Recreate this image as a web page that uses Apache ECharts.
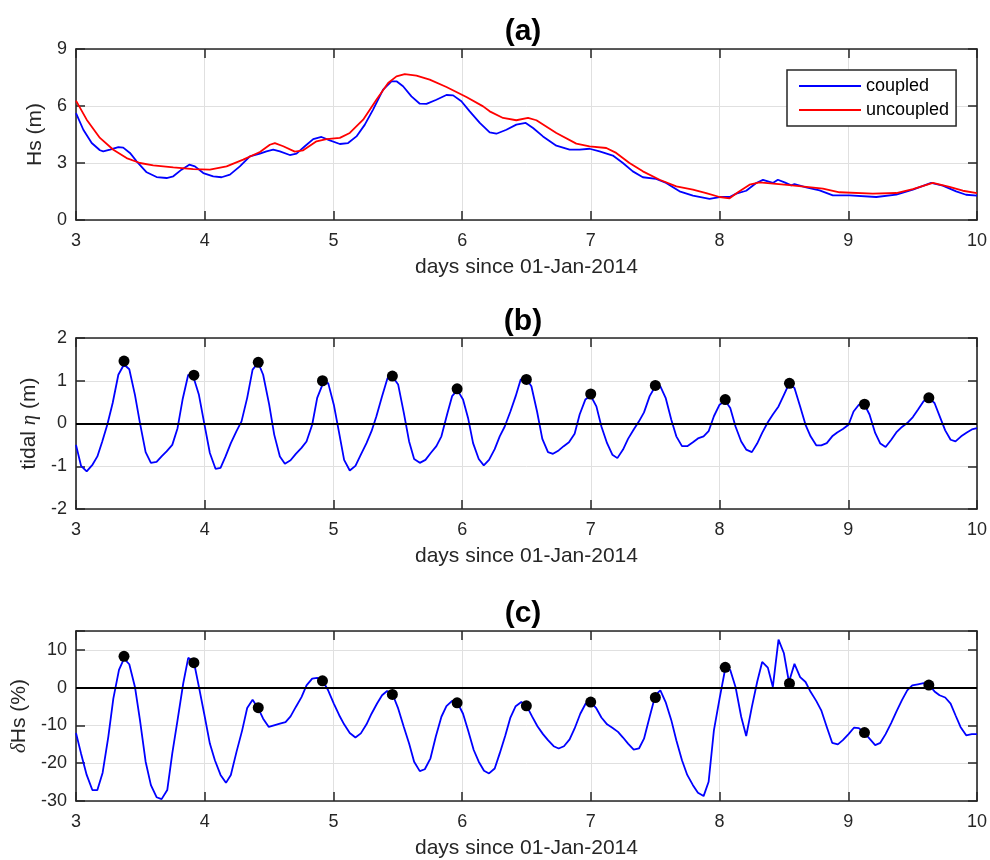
<!DOCTYPE html>
<html>
<head>
<meta charset="utf-8">
<script src="https://cdn.jsdelivr.net/npm/echarts@6/dist/echarts.min.js"></script>
<style>html,body{margin:0;padding:0;background:#fff;}#chart{width:990px;height:860px;}</style>
</head>
<body>
<div id="chart"></div>
<script>
// ---------- data (day since 01-Jan-2014, value) ----------
const xTicks = [3, 4, 5, 6, 7, 8, 9, 10];
const hsTicks = [0, 3, 6, 9];
const tideTicks = [-2, -1, 0, 1, 2];
const dHsTicks = [-30, -20, -10, 0, 10];

const hsCoupled = [[3.000,5.63],[3.057,4.75],[3.122,4.05],[3.186,3.67],[3.212,3.61],[3.264,3.70],[3.329,3.84],[3.367,3.81],[3.419,3.53],[3.471,3.09],[3.549,2.51],[3.626,2.26],[3.704,2.21],[3.756,2.30],[3.820,2.65],[3.880,2.91],[3.924,2.82],[3.989,2.47],[4.066,2.30],[4.131,2.25],[4.196,2.39],[4.273,2.82],[4.351,3.35],[4.429,3.49],[4.480,3.61],[4.532,3.70],[4.584,3.61],[4.661,3.42],[4.713,3.49],[4.778,3.88],[4.843,4.26],[4.907,4.37],[4.972,4.19],[5.050,4.00],[5.114,4.05],[5.179,4.40],[5.244,5.02],[5.308,5.81],[5.386,6.86],[5.451,7.30],[5.490,7.30],[5.541,7.04],[5.606,6.51],[5.671,6.12],[5.723,6.11],[5.800,6.33],[5.878,6.58],[5.930,6.56],[5.994,6.25],[6.059,5.72],[6.137,5.11],[6.214,4.61],[6.266,4.54],[6.344,4.75],[6.421,5.02],[6.494,5.11],[6.551,4.84],[6.628,4.40],[6.732,3.91],[6.835,3.70],[6.913,3.70],[6.990,3.75],[7.068,3.61],[7.171,3.39],[7.249,3.00],[7.326,2.56],[7.404,2.25],[7.508,2.16],[7.585,1.95],[7.689,1.51],[7.793,1.28],[7.922,1.11],[8.000,1.21],[8.078,1.21],[8.130,1.39],[8.207,1.54],[8.285,1.95],[8.337,2.11],[8.414,1.95],[8.453,2.12],[8.505,1.98],[8.557,1.82],[8.582,1.89],[8.673,1.72],[8.777,1.56],[8.880,1.30],[9.010,1.30],[9.217,1.21],[9.373,1.33],[9.502,1.60],[9.644,1.95],[9.734,1.81],[9.838,1.51],[9.915,1.33],[10.000,1.28]];

const hsUncoupled = [[3.000,6.28],[3.083,5.28],[3.186,4.32],[3.290,3.70],[3.393,3.26],[3.497,3.00],[3.600,2.88],[3.756,2.77],[3.911,2.68],[4.040,2.65],[4.170,2.82],[4.299,3.18],[4.429,3.58],[4.506,3.96],[4.545,4.05],[4.610,3.88],[4.700,3.60],[4.765,3.67],[4.869,4.14],[4.946,4.26],[5.050,4.32],[5.127,4.58],[5.231,5.28],[5.334,6.33],[5.425,7.21],[5.490,7.56],[5.554,7.68],[5.645,7.60],[5.748,7.39],[5.878,7.00],[6.033,6.47],[6.163,5.98],[6.214,5.72],[6.318,5.37],[6.421,5.25],[6.512,5.37],[6.577,5.25],[6.732,4.58],[6.887,4.02],[6.990,3.88],[7.120,3.79],[7.197,3.53],[7.300,3.00],[7.404,2.56],[7.534,2.12],[7.664,1.77],[7.793,1.60],[7.896,1.42],[8.000,1.21],[8.078,1.14],[8.143,1.46],[8.233,1.86],[8.311,1.98],[8.544,1.84],[8.803,1.65],[8.932,1.46],[9.191,1.39],[9.373,1.42],[9.502,1.63],[9.657,1.95],[9.786,1.74],[9.890,1.54],[10.000,1.42]];

const tide = [[3.000,-0.50],[3.039,-0.99],[3.083,-1.12],[3.129,-0.96],[3.166,-0.77],[3.204,-0.42],[3.243,-0.03],[3.285,0.48],[3.329,1.14],[3.373,1.38],[3.414,1.27],[3.458,0.67],[3.497,0.01],[3.541,-0.67],[3.582,-0.92],[3.626,-0.90],[3.665,-0.77],[3.704,-0.65],[3.748,-0.50],[3.789,-0.11],[3.828,0.56],[3.872,1.14],[3.911,1.10],[3.955,0.67],[3.996,0.01],[4.040,-0.69],[4.084,-1.06],[4.123,-1.04],[4.162,-0.77],[4.203,-0.46],[4.247,-0.18],[4.286,0.05],[4.330,0.60],[4.372,1.26],[4.416,1.42],[4.454,1.14],[4.501,0.44],[4.540,-0.26],[4.584,-0.77],[4.623,-0.94],[4.667,-0.86],[4.708,-0.71],[4.752,-0.57],[4.791,-0.42],[4.835,-0.03],[4.874,0.60],[4.915,0.91],[4.959,0.95],[5.003,0.44],[5.045,-0.23],[5.083,-0.85],[5.127,-1.10],[5.171,-0.99],[5.213,-0.73],[5.257,-0.46],[5.296,-0.18],[5.334,0.17],[5.378,0.64],[5.420,1.06],[5.458,1.10],[5.503,0.91],[5.547,0.25],[5.588,-0.42],[5.627,-0.83],[5.671,-0.92],[5.715,-0.85],[5.756,-0.69],[5.800,-0.53],[5.839,-0.30],[5.883,0.21],[5.922,0.64],[5.963,0.78],[6.007,0.56],[6.046,0.13],[6.085,-0.46],[6.129,-0.83],[6.168,-0.98],[6.209,-0.85],[6.253,-0.60],[6.292,-0.30],[6.331,-0.07],[6.375,0.28],[6.416,0.64],[6.455,1.03],[6.499,1.04],[6.538,0.87],[6.582,0.28],[6.623,-0.36],[6.667,-0.67],[6.706,-0.71],[6.750,-0.63],[6.789,-0.53],[6.830,-0.44],[6.874,-0.24],[6.913,0.21],[6.957,0.56],[6.999,0.65],[7.043,0.40],[7.082,-0.07],[7.126,-0.46],[7.167,-0.73],[7.206,-0.81],[7.250,-0.61],[7.289,-0.36],[7.333,-0.14],[7.374,0.05],[7.413,0.26],[7.457,0.64],[7.501,0.87],[7.540,0.87],[7.581,0.60],[7.625,0.09],[7.664,-0.30],[7.708,-0.53],[7.749,-0.53],[7.793,-0.44],[7.832,-0.35],[7.876,-0.30],[7.915,-0.18],[7.956,0.17],[8.000,0.44],[8.044,0.53],[8.083,0.36],[8.124,-0.07],[8.168,-0.42],[8.207,-0.61],[8.251,-0.67],[8.292,-0.47],[8.331,-0.22],[8.375,0.03],[8.414,0.21],[8.458,0.40],[8.500,0.67],[8.543,0.95],[8.582,0.83],[8.626,0.40],[8.668,-0.03],[8.707,-0.30],[8.751,-0.51],[8.790,-0.51],[8.833,-0.46],[8.875,-0.30],[8.914,-0.21],[8.958,-0.13],[9.002,-0.03],[9.041,0.28],[9.082,0.44],[9.126,0.44],[9.165,0.21],[9.209,-0.22],[9.249,-0.47],[9.290,-0.55],[9.334,-0.38],[9.373,-0.21],[9.417,-0.08],[9.458,0.01],[9.502,0.15],[9.541,0.32],[9.585,0.52],[9.626,0.60],[9.670,0.48],[9.709,0.18],[9.753,-0.16],[9.795,-0.38],[9.833,-0.42],[9.877,-0.30],[9.921,-0.21],[9.960,-0.14],[10.000,-0.11]];

const dHs = [[3.000,-12.0],[3.039,-17.4],[3.083,-23.1],[3.127,-27.1],[3.166,-27.1],[3.207,-22.5],[3.251,-13.0],[3.290,-2.9],[3.334,4.7],[3.373,7.7],[3.414,6.2],[3.458,0.2],[3.497,-8.6],[3.541,-19.6],[3.582,-25.8],[3.626,-29.0],[3.665,-29.5],[3.709,-27.1],[3.748,-17.4],[3.789,-8.6],[3.833,1.1],[3.872,7.9],[3.916,6.8],[3.955,0.2],[3.996,-6.9],[4.040,-14.8],[4.079,-19.2],[4.123,-23.1],[4.165,-25.2],[4.203,-23.1],[4.247,-17.0],[4.291,-11.3],[4.330,-5.4],[4.372,-3.2],[4.416,-5.5],[4.454,-8.2],[4.498,-10.4],[4.545,-9.9],[4.584,-9.5],[4.628,-9.1],[4.667,-7.6],[4.708,-5.1],[4.752,-2.5],[4.791,0.6],[4.835,2.4],[4.874,2.6],[4.915,1.9],[4.959,-0.7],[5.003,-4.2],[5.045,-7.3],[5.083,-9.7],[5.127,-12.0],[5.171,-13.2],[5.213,-12.1],[5.257,-9.7],[5.296,-6.9],[5.339,-4.2],[5.378,-2.0],[5.417,-0.9],[5.458,-1.6],[5.503,-5.5],[5.547,-10.4],[5.588,-14.8],[5.627,-19.6],[5.671,-22.1],[5.710,-21.6],[5.754,-18.7],[5.795,-13.0],[5.839,-7.7],[5.878,-4.9],[5.922,-3.5],[5.961,-3.8],[6.007,-6.9],[6.046,-11.3],[6.090,-16.5],[6.129,-19.6],[6.170,-22.0],[6.209,-22.7],[6.253,-21.4],[6.292,-17.4],[6.336,-12.6],[6.375,-7.9],[6.416,-4.9],[6.460,-3.8],[6.499,-4.7],[6.543,-7.6],[6.585,-10.2],[6.628,-12.3],[6.667,-13.9],[6.711,-15.5],[6.750,-16.1],[6.791,-15.5],[6.835,-13.7],[6.874,-10.8],[6.918,-6.9],[6.960,-4.2],[6.999,-3.8],[7.043,-5.5],[7.082,-7.9],[7.126,-9.7],[7.167,-10.6],[7.211,-11.7],[7.250,-13.2],[7.289,-14.8],[7.333,-16.4],[7.374,-16.1],[7.413,-13.5],[7.457,-7.7],[7.501,-2.0],[7.540,-0.7],[7.581,-3.8],[7.625,-8.6],[7.664,-13.9],[7.708,-19.2],[7.749,-23.1],[7.793,-25.8],[7.832,-27.8],[7.876,-28.7],[7.915,-24.9],[7.956,-11.3],[8.000,-2.9],[8.044,5.0],[8.083,4.7],[8.124,0.2],[8.168,-7.7],[8.207,-12.8],[8.251,-5.1],[8.292,1.5],[8.331,6.8],[8.375,5.3],[8.414,0.2],[8.458,12.7],[8.500,9.1],[8.539,1.5],[8.582,6.3],[8.626,2.8],[8.668,1.5],[8.707,-1.1],[8.751,-3.5],[8.790,-6.0],[8.833,-10.4],[8.875,-14.6],[8.919,-15.0],[8.958,-13.9],[9.002,-12.3],[9.044,-10.6],[9.082,-10.7],[9.126,-12.0],[9.165,-13.5],[9.209,-15.2],[9.249,-14.6],[9.290,-12.3],[9.334,-9.3],[9.373,-6.4],[9.417,-3.3],[9.458,-0.7],[9.497,0.6],[9.541,0.9],[9.585,1.2],[9.626,0.8],[9.670,-1.0],[9.709,-2.0],[9.753,-2.6],[9.795,-4.2],[9.833,-7.3],[9.872,-10.4],[9.916,-12.6],[9.960,-12.3],[10.000,-12.3]];

const peakDays = [3.373, 3.916, 4.416, 4.915, 5.458, 5.961, 6.499, 6.999, 7.501, 8.044, 8.543, 9.126, 9.626];
const peakTide = [1.46, 1.13, 1.43, 1.00, 1.11, 0.81, 1.03, 0.69, 0.89, 0.56, 0.94, 0.45, 0.60];
const peakDHs = [8.3, 6.6, -5.3, 1.8, -1.8, -4.0, -4.8, -3.8, -2.6, 5.4, 1.1, -11.9, 0.7];

const panelTitles = ['(a)', '(b)', '(c)'];
const yNames = ['Hs (m)', 'tidal {i|η} (m)', '{i|δ}Hs (%)'];
const xName = 'days since 01-Jan-2014';
const seriesNames = ['coupled', 'uncoupled'];

// ---------- styling / layout ----------
const FONT = '"Liberation Sans", Arial, Helvetica, sans-serif';
const TXT = '#262626';
const FRAME = '#262626';
const GRIDC = '#e0e0e0';
const grids = [
  { left: 76, right: 12, top: 49, height: 171 },
  { left: 76, right: 12, top: 338, height: 171 },
  { left: 76, right: 12, top: 631, height: 170 }
];
const yRanges = [
  { min: 0, max: 9, interval: 3, gap: 28 },
  { min: -2, max: 2, interval: 1, gap: 33 },
  { min: -30, max: 15, interval: 10, gap: 43 }
];
const titleTops = [12, 302, 594];

const tickStyle = { show: true, inside: true, length: 9, lineStyle: { color: FRAME, width: 1.5 } };
const lineStyle = { show: true, onZero: false, lineStyle: { color: FRAME, width: 1.6 } };

const xAxis = [], yAxis = [];
grids.forEach((g, i) => {
  xAxis.push({
    type: 'value', gridIndex: i, min: xTicks[0], max: xTicks[xTicks.length - 1], interval: 1,
    position: 'bottom', name: xName, nameLocation: 'middle', nameGap: 37,
    nameTextStyle: { fontSize: 21, color: TXT, fontFamily: FONT },
    axisLine: lineStyle, axisTick: tickStyle,
    axisLabel: { fontSize: 18, color: TXT, fontFamily: FONT, margin: 12 },
    splitLine: { show: true, lineStyle: { color: GRIDC, width: 1 } }
  });
  xAxis.push({
    type: 'value', gridIndex: i, min: xTicks[0], max: xTicks[xTicks.length - 1], interval: 1,
    position: 'top', axisLine: lineStyle, axisTick: tickStyle,
    axisLabel: { show: false }, splitLine: { show: false }
  });
  const r = yRanges[i];
  yAxis.push({
    type: 'value', gridIndex: i, min: r.min, max: r.max, interval: r.interval,
    position: 'left', name: yNames[i], nameLocation: 'middle', nameGap: r.gap,
    nameTextStyle: { fontSize: 21, color: TXT, fontFamily: FONT,
      rich: { i: { fontSize: 21, fontStyle: 'italic', fontFamily: '"Liberation Serif", serif', color: TXT } } },
    axisLine: lineStyle, axisTick: tickStyle,
    axisLabel: { fontSize: 18, color: TXT, fontFamily: FONT, margin: 9,
      formatter: v => (v > r.max - 1e-9 && (v - r.min) % r.interval !== 0) ? '' : String(v) },
    splitLine: { show: true, lineStyle: { color: GRIDC, width: 1 } }
  });
  yAxis.push({
    type: 'value', gridIndex: i, min: r.min, max: r.max, interval: r.interval,
    position: 'right', axisLine: lineStyle, axisTick: tickStyle,
    axisLabel: { show: false }, splitLine: { show: false }
  });
});

const zeroLine = {
  silent: true, symbol: 'none', label: { show: false },
  lineStyle: { color: '#000', width: 2, type: 'solid' },
  data: [{ yAxis: 0 }]
};
const zip = (a, b) => a.map((x, k) => [x, b[k]]);

const option = {
  animation: false,
  backgroundColor: '#fff',
  textStyle: { fontFamily: FONT },
  title: panelTitles.map((t, i) => ({
    text: t, left: 518, top: titleTops[i], textAlign: 'center',
    textStyle: { fontSize: 30, fontWeight: 'bold', color: '#000', fontFamily: FONT }
  })),
  grid: grids,
  xAxis, yAxis,
  legend: {
    data: seriesNames.map(n => ({ name: n, icon: 'rect' })),
    orient: 'vertical', left: 787, top: 70,
    itemWidth: 62, itemHeight: 2, itemGap: 6,
    padding: [7, 7, 7, 12],
    borderColor: FRAME, borderWidth: 1.5, backgroundColor: '#fff',
    textStyle: { fontSize: 18, color: '#000', fontFamily: FONT, lineHeight: 18 }
  },
  series: [
    { name: seriesNames[0], type: 'line', xAxisIndex: 0, yAxisIndex: 0, data: hsCoupled,
      symbol: 'none', lineStyle: { color: '#0000ff', width: 1.8 }, itemStyle: { color: '#0000ff' }, z: 3 },
    { name: seriesNames[1], type: 'line', xAxisIndex: 0, yAxisIndex: 0, data: hsUncoupled,
      symbol: 'none', lineStyle: { color: '#ff0000', width: 1.8 }, itemStyle: { color: '#ff0000' }, z: 4 },
    { name: 'tide', type: 'line', xAxisIndex: 2, yAxisIndex: 2, data: tide,
      symbol: 'none', lineStyle: { color: '#0000ff', width: 1.8 }, markLine: zeroLine },
    { name: 'tidePeaks', type: 'scatter', xAxisIndex: 2, yAxisIndex: 2, data: zip(peakDays, peakTide),
      symbolSize: 11, itemStyle: { color: '#000', opacity: 1 }, z: 5 },
    { name: 'dHs', type: 'line', xAxisIndex: 4, yAxisIndex: 4, data: dHs,
      symbol: 'none', lineStyle: { color: '#0000ff', width: 1.8 }, markLine: zeroLine },
    { name: 'dHsPeaks', type: 'scatter', xAxisIndex: 4, yAxisIndex: 4, data: zip(peakDays, peakDHs),
      symbolSize: 11, itemStyle: { color: '#000', opacity: 1 }, z: 5 }
  ]
};

const chart = echarts.init(document.getElementById('chart'), null, { renderer: 'canvas' });
chart.setOption(option);
</script>
</body>
</html>
